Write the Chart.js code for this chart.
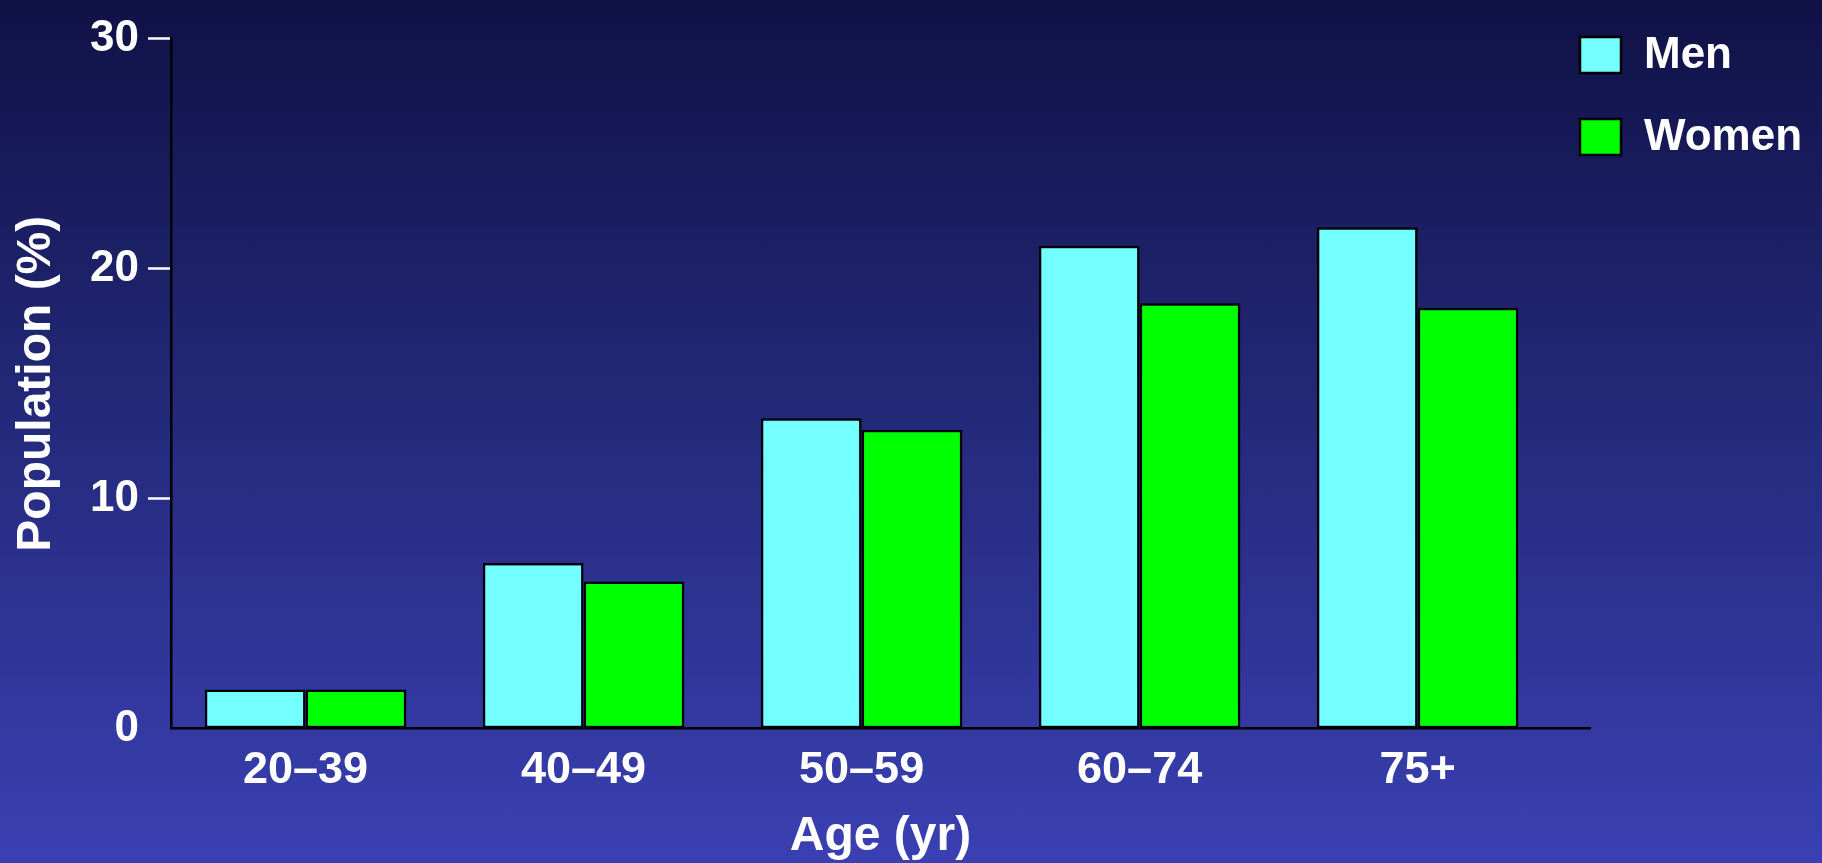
<!DOCTYPE html>
<html>
<head>
<meta charset="utf-8">
<title>Population by age group</title>
<script src="https://cdn.jsdelivr.net/npm/chart.js@4/dist/chart.umd.min.js"></script>
<style>
  html, body { margin: 0; padding: 0; }
  body {
    width: 1822px; height: 863px; overflow: hidden;
    background: linear-gradient(to bottom, rgb(16,17,70) 0%, rgb(34,40,118) 45%, rgb(58,64,178) 100%);
  }
  #wrap { position: relative; width: 1822px; height: 863px; }
</style>
</head>
<body>
<div id="wrap"><canvas id="chart" width="1822" height="863"></canvas></div>
<script>
// Age groups and share of population (%) by sex
const categories = ['20–39', '40–49', '50–59', '60–74', '75+'];
const men = [1.7, 7.2, 13.5, 21.0, 21.8];
const women = [1.7, 6.4, 13.0, 18.5, 18.3];
const yTicks = [0, 10, 20, 30];

const FONT = '"Liberation Sans", Arial, Helvetica, sans-serif';

// Legend drawn in the upper right corner, from the dataset labels and colours
const cornerLegend = {
  id: 'cornerLegend',
  afterDraw(chart) {
    const ctx = chart.ctx;
    ctx.save();
    ctx.font = 'bold 44px ' + FONT;
    ctx.textBaseline = 'middle';
    ctx.textAlign = 'left';
    chart.data.datasets.forEach((ds, i) => {
      const x = 1580, y = 37 + i * 82, w = 41, h = 36;
      ctx.fillStyle = ds.backgroundColor;
      ctx.fillRect(x, y, w, h);
      ctx.lineWidth = 2.5;
      ctx.strokeStyle = '#000';
      ctx.strokeRect(x, y, w, h);
      ctx.fillStyle = '#fff';
      ctx.fillText(ds.label, 1644, y + h / 2 + 1);
    });
    ctx.restore();
  }
};

const toPoints = arr => arr.map((v, i) => ({ x: i, y: v }));

new Chart(document.getElementById('chart'), {
  type: 'bar',
  data: {
    datasets: [
      { label: 'Men', data: toPoints(men), backgroundColor: '#73ffff', borderColor: '#000', borderWidth: 2.5, borderSkipped: false },
      { label: 'Women', data: toPoints(women), backgroundColor: '#00ff00', borderColor: '#000', borderWidth: 2.5, borderSkipped: false }
    ]
  },
  options: {
    responsive: false,
    animation: false,
    layout: { padding: { top: 38.7, right: 232, bottom: 0, left: 0 } },
    datasets: { bar: { categoryPercentage: 0.725, barPercentage: 1.0 } },
    plugins: { legend: { display: false }, tooltip: { enabled: false } },
    scales: {
      x: {
        type: 'linear',
        offset: false,
        min: -0.484,
        max: 4.62,
        afterBuildTicks: s => { s.ticks = categories.map((_, i) => ({ value: i })); },
        afterFit: s => { s.height = 134.3; },
        ticks: {
          color: '#fff',
          padding: 15,
          font: { family: FONT, size: 45, weight: 'bold' },
          callback: v => categories[v]
        },
        grid: { display: true, drawOnChartArea: false, drawTicks: false },
        border: { display: true, color: '#000', width: 2.5 },
        title: {
          display: true,
          text: 'Age (yr)',
          color: '#fff',
          font: { family: FONT, size: 48, weight: 'bold', lineHeight: 1.1 },
          padding: { top: 0, bottom: 0 }
        }
      },
      y: {
        type: 'linear',
        min: 0,
        max: 30,
        afterBuildTicks: s => { s.ticks = yTicks.map(v => ({ value: v })); },
        afterFit: s => { s.width = 171; },
        ticks: {
          color: '#fff',
          padding: 9,
          font: { family: FONT, size: 44, weight: 'bold' }
        },
        grid: {
          drawOnChartArea: false,
          drawTicks: true,
          tickLength: 23,
          tickWidth: 2.5,
          tickColor: c => (c.tick && c.tick.value === 0 ? 'rgba(0,0,0,0)' : '#ffffff')
        },
        border: { display: true, color: '#000', width: 2.5 },
        title: {
          display: true,
          text: 'Population (%)',
          color: '#fff',
          font: { family: FONT, size: 48, weight: 'bold', lineHeight: 1.2 },
          padding: { top: 8, bottom: 0 }
        }
      }
    }
  },
  plugins: [cornerLegend]
});
</script>
</body>
</html>
